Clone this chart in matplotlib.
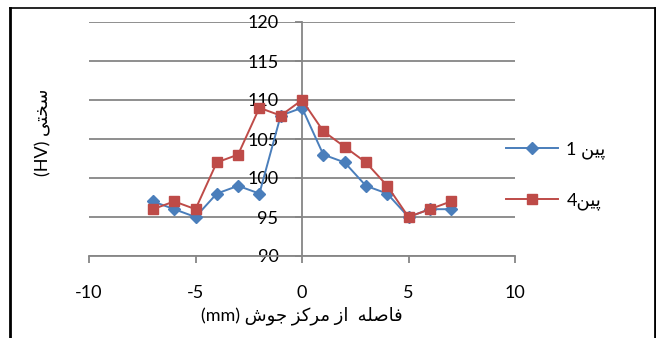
import re
import matplotlib
matplotlib.use('Agg')
import matplotlib.pyplot as plt
from matplotlib.lines import Line2D

plt.rcParams['font.family'] = ['Lato', 'DejaVu Sans']
plt.rcParams['axes.unicode_minus'] = False

# data
distance = [-7, -6, -5, -4, -3, -2, -1, 0, 1, 2, 3, 4, 5, 6, 7]
pin1 = [97, 96, 95, 98, 99, 98, 108, 109, 103, 102, 99, 98, 95, 96, 96]
pin4 = [96, 97, 96, 102, 103, 109, 108, 110, 106, 104, 102, 99, 95, 96, 97]
series_names = ['پین 1', 'پین4']
x_label = 'فاصله  از مرکز جوش (mm)'
y_label = 'سختی (HV)'
x_ticks = [-10, -5, 0, 5, 10]
y_ticks = [90, 95, 100, 105, 110, 115, 120]

# matplotlib has no arabic shaping, so do a small one by hand
# letter: (isolated, final, initial, medial)
FORMS = {
    'ا': ('\uFE8D', '\uFE8E', None, None),
    'ت': ('\uFE95', '\uFE96', '\uFE97', '\uFE98'),
    'ج': ('\uFE9D', '\uFE9E', '\uFE9F', '\uFEA0'),
    'خ': ('\uFEA5', '\uFEA6', '\uFEA7', '\uFEA8'),
    'ر': ('\uFEAD', '\uFEAE', None, None),
    'ز': ('\uFEAF', '\uFEB0', None, None),
    'س': ('\uFEB1', '\uFEB2', '\uFEB3', '\uFEB4'),
    'ش': ('\uFEB5', '\uFEB6', '\uFEB7', '\uFEB8'),
    'ص': ('\uFEB9', '\uFEBA', '\uFEBB', '\uFEBC'),
    'ف': ('\uFED1', '\uFED2', '\uFED3', '\uFED4'),
    'ل': ('\uFEDD', '\uFEDE', '\uFEDF', '\uFEE0'),
    'م': ('\uFEE1', '\uFEE2', '\uFEE3', '\uFEE4'),
    'ن': ('\uFEE5', '\uFEE6', '\uFEE7', '\uFEE8'),
    'ه': ('\uFEE9', '\uFEEA', '\uFEEB', '\uFEEC'),
    'و': ('\uFEED', '\uFEEE', None, None),
    'پ': ('\uFB56', '\uFB57', '\uFB58', '\uFB59'),
    'ک': ('\uFB8E', '\uFB8F', '\uFB90', '\uFB91'),
    'ی': ('\uFBFC', '\uFBFD', '\uFBFE', '\uFBFF'),
}


def shape(word):
    out = []
    for i, ch in enumerate(word):
        prev_joins = i > 0 and FORMS[word[i - 1]][2] is not None
        next_joins = i < len(word) - 1 and FORMS[ch][2] is not None
        iso, fin, ini, med = FORMS[ch]
        if prev_joins and next_joins:
            out.append(med)
        elif prev_joins:
            out.append(fin)
        elif next_joins:
            out.append(ini)
        else:
            out.append(iso)
    return ''.join(out)[::-1]


def rtl(text):
    runs = re.findall(r'[\u0600-\u06FF]+|\s|[^\s\u0600-\u06FF]+', text)
    return ''.join(shape(r) if r[0] in FORMS else r for r in runs[::-1])


fig = plt.figure(figsize=(6.56, 3.38), dpi=100)
ax = fig.add_axes([89 / 656, 82 / 338, 426 / 656, 234 / 338])

grey = '#868686'
fs = 13
ax.plot(distance, pin1, color='#4A7EBB', lw=1.4, marker='D', ms=6.5,
        label=rtl(series_names[0]), zorder=3)
ax.plot(distance, pin4, color='#BE4B48', lw=1.4, marker='s', ms=6.5,
        label=rtl(series_names[1]), zorder=4)

ax.set_xlim(-10, 10)
ax.set_ylim(90, 120)
ax.set_xticks(x_ticks)
ax.set_yticks(y_ticks)
ax.yaxis.grid(True, color=grey, lw=1.3)
ax.set_axisbelow(True)

for side in ['top', 'right']:
    ax.spines[side].set_visible(False)
ax.spines['left'].set_position(('data', 0))
ax.spines['left'].set_color(grey)
ax.spines['bottom'].set_color(grey)
ax.spines['left'].set_linewidth(1.3)
ax.spines['bottom'].set_linewidth(1.3)
ax.tick_params(axis='y', direction='out', length=5, width=1.3, color=grey,
               pad=12, labelsize=fs)
ax.tick_params(axis='x', direction='out', length=5, width=1.3, color=grey,
               pad=16, labelsize=fs)

ax.set_xlabel(rtl(x_label), fontsize=fs, labelpad=4)
fig.text(43 / 656, 1 - 132 / 338, rtl(y_label), rotation=90, fontsize=fs,
         ha='center', va='center')

ax.legend(loc='upper left', bbox_to_anchor=(506 / 656, 1 - 141 / 338),
          bbox_transform=fig.transFigure, frameon=False, fontsize=fs,
          borderpad=0, borderaxespad=0, handlelength=2.9, handletextpad=0.45,
          labelspacing=1.85)

# outer chart frame (partly cut off in the original)
fig.add_artist(Line2D([10 / 656, 655 / 656], [330 / 338, 330 / 338],
                      transform=fig.transFigure, color='black', lw=1.2))
fig.add_artist(Line2D([10 / 656, 10 / 656], [0, 330 / 338],
                      transform=fig.transFigure, color='black', lw=2))
fig.add_artist(Line2D([655 / 656, 655 / 656], [0, 330 / 338],
                      transform=fig.transFigure, color='black', lw=2))

fig.savefig('out.png', dpi=100)
